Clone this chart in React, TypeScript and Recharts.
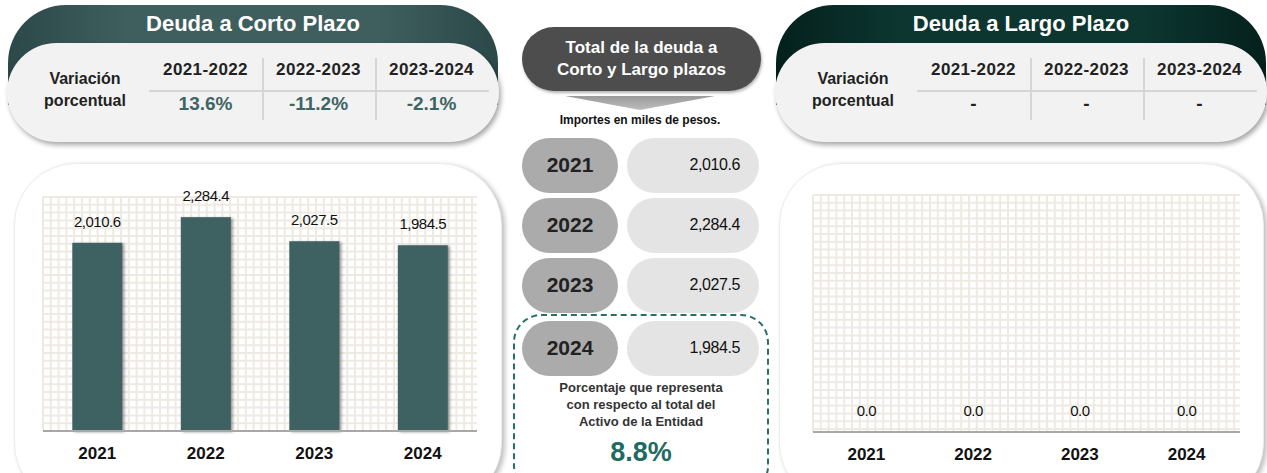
import { BarChart, Bar, XAxis, YAxis, CartesianGrid, LabelList } from 'recharts'

const years = ['2021', '2022', '2023', '2024']
const shortTermDebt = [2010.6, 2284.4, 2027.5, 1984.5]
const longTermDebt = [0, 0, 0, 0]
const periods = ['2021-2022', '2022-2023', '2023-2024']
const shortTermVariation = ['13.6%', '-11.2%', '-2.1%']
const longTermVariation = ['-', '-', '-']
const assetShare = '8.8%'

const FONT = '"Liberation Sans", Arial, sans-serif'
const BAR_COLOR = '#3e6161'

const fmt = (v: number) =>
  v.toLocaleString('en-US', { minimumFractionDigits: 1, maximumFractionDigits: 1 })

const gridLines = (start: number, length: number, step: number) =>
  Array.from({ length: Math.floor(length / step) + 1 }, (_, i) => start + i * step)

function ShadowBar(props: any) {
  const { x, y, width, height, fill } = props
  if (!height || height <= 0) return null
  return (
    <rect
      x={x}
      y={y}
      width={width}
      height={height}
      fill={fill}
      style={{ filter: 'drop-shadow(2px 1px 1.5px rgba(0,0,0,0.4))' }}
    />
  )
}

interface PanelProps {
  left: number
  title: string
  headerBg: string
  values: string[]
  valueColor: string
}

function VariationPanel({ left, title, headerBg, values, valueColor }: PanelProps) {
  return (
    <div style={{ position: 'absolute', left, top: 5, width: 490, height: 138 }}>
      <div
        style={{
          position: 'absolute',
          left: 0,
          top: 0,
          width: 490,
          height: 100,
          borderRadius: '58px 58px 0 0',
          background: headerBg,
        }}
      />
      <div
        style={{
          position: 'absolute',
          left: 0,
          top: 0,
          width: 490,
          height: 38,
          lineHeight: '38px',
          textAlign: 'center',
          color: '#fff',
          fontWeight: 700,
          fontSize: 22,
        }}
      >
        {title}
      </div>
      <div
        style={{
          position: 'absolute',
          left: -1,
          top: 38,
          width: 492,
          height: 99,
          borderRadius: 50,
          background: '#f2f2f2',
          boxShadow: '2px 3px 5px rgba(0,0,0,0.35)',
        }}
      >
        <div
          style={{
            position: 'absolute',
            left: 18,
            top: 25,
            width: 120,
            textAlign: 'center',
            fontWeight: 700,
            fontSize: 16,
            lineHeight: '22px',
            color: '#222',
          }}
        >
          Variación
          <br />
          porcentual
        </div>
        <div
          style={{ position: 'absolute', left: 142, top: 47, width: 340, height: 2, background: '#d6d6d6' }}
        />
        {periods.map((p, i) => (
          <div key={p}>
            {i > 0 && (
              <div
                style={{
                  position: 'absolute',
                  left: 142 + i * 113,
                  top: 15,
                  width: 2,
                  height: 62,
                  background: '#d6d6d6',
                }}
              />
            )}
            <div
              style={{
                position: 'absolute',
                left: 142 + i * 113,
                top: 16,
                width: 113,
                textAlign: 'center',
                fontWeight: 700,
                fontSize: 17,
                letterSpacing: 0.4,
                lineHeight: '22px',
                color: '#222',
              }}
            >
              {p}
            </div>
            <div
              style={{
                position: 'absolute',
                left: 142 + i * 113,
                top: 49,
                width: 113,
                textAlign: 'center',
                fontWeight: 700,
                fontSize: 19,
                lineHeight: '24px',
                color: valueColor,
              }}
            >
              {values[i]}
            </div>
          </div>
        ))}
      </div>
    </div>
  )
}

interface DebtChartProps {
  left: number
  width: number
  values: number[]
  domainMax: number
  margin: { top: number; right: number; bottom: number; left: number }
}

function DebtChart({ left, width, values, domainMax, margin }: DebtChartProps) {
  const data = years.map((year, i) => ({ year, value: values[i] }))
  return (
    <>
      <div
        style={{
          position: 'absolute',
          left,
          top: 163,
          width,
          height: 340,
          borderRadius: 62,
          background: '#fff',
          border: '1px solid #ececec',
          boxShadow: '3px 2px 5px rgba(0,0,0,0.25)',
        }}
      />
      <div style={{ position: 'absolute', left, top: 163 }}>
        <BarChart width={width} height={310} data={data} margin={margin} barCategoryGap="27%">
          <CartesianGrid
            stroke="#eeeae2"
            strokeWidth={2}
            verticalCoordinatesGenerator={({ offset }: any) =>
              gridLines(offset.left, offset.width, 7.8)
            }
            horizontalCoordinatesGenerator={({ offset }: any) =>
              gridLines(offset.top, offset.height, 7.8)
            }
          />
          <XAxis
            dataKey="year"
            height={30}
            tickLine={false}
            axisLine={{ stroke: '#a8a8a8', strokeWidth: 2 }}
            tickMargin={10}
            tick={{ fontSize: 17, fontWeight: 700, fill: '#111', fontFamily: FONT }}
          />
          <YAxis hide domain={[0, domainMax]} />
          <Bar dataKey="value" fill={BAR_COLOR} shape={ShadowBar} isAnimationActive={false}>
            <LabelList
              dataKey="value"
              position="top"
              offset={16}
              formatter={(v: any) => fmt(Number(v))}
              style={{ fontSize: 15, fill: '#111', fontFamily: FONT, letterSpacing: -0.5 }}
            />
          </Bar>
        </BarChart>
      </div>
    </>
  )
}

const rowTops = [138, 198, 258, 321]

export default function App() {
  return (
    <div
      style={{
        position: 'absolute',
        left: 0,
        top: 0,
        width: 1267,
        height: 473,
        overflow: 'hidden',
        background: '#fff',
        fontFamily: FONT,
      }}
    >
      <VariationPanel
        left={8}
        title="Deuda a Corto Plazo"
        headerBg="linear-gradient(90deg, #2c4848 0%, #3f5f5f 25%, #3f5f5f 75%, #2c4848 100%)"
        values={shortTermVariation}
        valueColor="#3e6464"
      />
      <VariationPanel
        left={776}
        title="Deuda a Largo Plazo"
        headerBg="linear-gradient(90deg, #04201c 0%, #0d3631 25%, #0d3631 75%, #04201c 100%)"
        values={longTermVariation}
        valueColor="#222"
      />

      {/* center column */}
      <div
        style={{
          position: 'absolute',
          left: 522,
          top: 27,
          width: 239,
          height: 64,
          borderRadius: 32,
          background: '#4d4d4d',
          boxShadow: '1px 2px 3px rgba(0,0,0,0.3)',
          color: '#fff',
          fontWeight: 700,
          fontSize: 17,
          lineHeight: '22px',
          textAlign: 'center',
          paddingTop: 10,
          boxSizing: 'border-box',
        }}
      >
        Total de la deuda a
        <br />
        Corto y Largo plazos
      </div>
      <div
        style={{
          position: 'absolute',
          left: 565,
          top: 96,
          width: 150,
          height: 14,
          background: 'linear-gradient(180deg, #9a9a9a, #bdbdbd)',
          clipPath: 'polygon(0 0, 100% 0, 50% 100%)',
        }}
      />
      <div
        style={{
          position: 'absolute',
          left: 520,
          top: 113,
          width: 240,
          textAlign: 'center',
          fontWeight: 700,
          fontSize: 12,
          color: '#111',
        }}
      >
        Importes en miles de pesos.
      </div>
      <div
        style={{
          position: 'absolute',
          left: 513,
          top: 314,
          width: 256,
          height: 180,
          borderRadius: 28,
          border: '2px dashed #26706a',
          boxSizing: 'border-box',
        }}
      />
      {years.map((y, i) => (
        <div key={y}>
          <div
            style={{
              position: 'absolute',
              left: 522,
              top: rowTops[i],
              width: 96,
              height: 55,
              borderRadius: 28,
              background: '#ababab',
              lineHeight: '53px',
              textAlign: 'center',
              fontWeight: 700,
              fontSize: 21,
              color: '#222',
            }}
          >
            {y}
          </div>
          <div
            style={{
              position: 'absolute',
              left: 627,
              top: rowTops[i],
              width: 132,
              height: 55,
              borderRadius: 28,
              background: '#e4e4e4',
              lineHeight: '53px',
              textAlign: 'right',
              paddingRight: 19,
              boxSizing: 'border-box',
              fontSize: 16,
              letterSpacing: -0.4,
              color: '#111',
            }}
          >
            {fmt(shortTermDebt[i] + longTermDebt[i])}
          </div>
        </div>
      ))}
      <div
        style={{
          position: 'absolute',
          left: 520,
          top: 379,
          width: 242,
          textAlign: 'center',
          fontWeight: 700,
          fontSize: 13,
          lineHeight: '17px',
          color: '#333',
        }}
      >
        Porcentaje que representa
        <br />
        con respecto al total del
        <br />
        Activo de la Entidad
      </div>
      <div
        style={{
          position: 'absolute',
          left: 520,
          top: 436,
          width: 242,
          textAlign: 'center',
          fontWeight: 700,
          fontSize: 27,
          lineHeight: '32px',
          color: '#1f6b64',
        }}
      >
        {assetShare}
      </div>

      <DebtChart
        left={14}
        width={486}
        values={shortTermDebt}
        domainMax={2500}
        margin={{ top: 34, right: 23, bottom: 12, left: 29 }}
      />
      <DebtChart
        left={779}
        width={483}
        values={longTermDebt}
        domainMax={2500}
        margin={{ top: 32, right: 22, bottom: 11, left: 34 }}
      />
    </div>
  )
}
